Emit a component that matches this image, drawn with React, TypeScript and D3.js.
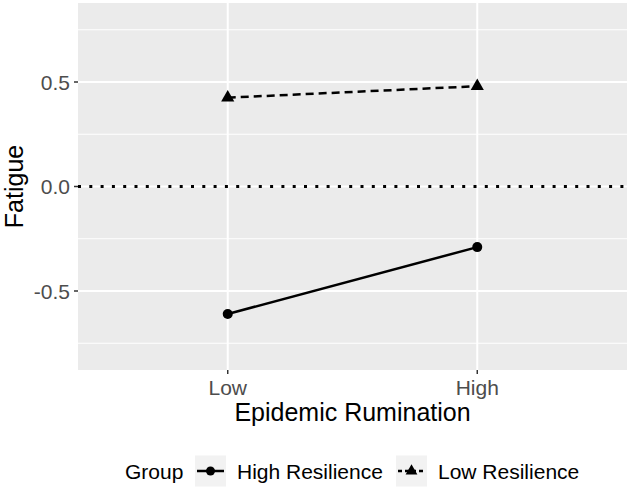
// @ts-nocheck
import React, { useEffect, useRef } from "react";
import * as d3 from "d3";

const levels = ["Low", "High"];
const highResilience = [-0.61, -0.29];
const lowResilience = [0.425, 0.48];
const yTicks = [-0.5, 0.0, 0.5];
const yMinor = [-0.75, -0.25, 0.25, 0.75];

const W = 630;
const H = 490;
const FONT = "'Liberation Sans', Arial, sans-serif";

export default function App() {
  const svgRef = useRef(null);

  useEffect(() => {
    const svg = d3.select(svgRef.current);
    svg.selectAll("*").remove();

    const margin = { top: 3, right: 3, bottom: 120, left: 78 };
    const x0 = margin.left;
    const x1 = W - margin.right;
    const y0 = margin.top;
    const y1 = H - margin.bottom;

    // discrete x with ggplot's 0.6 expansion
    const x = d3.scaleLinear().domain([0.4, 2.6]).range([x0, x1]);
    const xPos = (i) => x(i + 1);
    const y = d3.scaleLinear().domain([-0.878, 0.878]).range([y1, y0]);

    // Panel
    svg.append("rect")
      .attr("x", x0).attr("y", y0)
      .attr("width", x1 - x0).attr("height", y1 - y0)
      .attr("fill", "#EBEBEB");

    svg.selectAll(".minor")
      .data(yMinor)
      .join("line")
      .attr("x1", x0).attr("x2", x1)
      .attr("y1", (d) => y(d)).attr("y2", (d) => y(d))
      .attr("stroke", "#fff").attr("stroke-width", 1);

    svg.selectAll(".major")
      .data(yTicks)
      .join("line")
      .attr("x1", x0).attr("x2", x1)
      .attr("y1", (d) => y(d)).attr("y2", (d) => y(d))
      .attr("stroke", "#fff").attr("stroke-width", 2);

    levels.forEach((l, i) => {
      svg.append("line")
        .attr("x1", xPos(i)).attr("x2", xPos(i))
        .attr("y1", y0).attr("y2", y1)
        .attr("stroke", "#fff").attr("stroke-width", 2);
    });

    // Reference line at 0
    svg.append("line")
      .attr("x1", x0).attr("x2", x1)
      .attr("y1", y(0)).attr("y2", y(0))
      .attr("stroke", "#000").attr("stroke-width", 3)
      .attr("stroke-dasharray", "3 8.3");

    // Series
    const line = d3.line().x((d, i) => xPos(i)).y((d) => y(d));

    svg.append("path")
      .datum(highResilience)
      .attr("d", line)
      .attr("fill", "none").attr("stroke", "#000").attr("stroke-width", 2.5);

    svg.append("path")
      .datum(lowResilience)
      .attr("d", line)
      .attr("fill", "none").attr("stroke", "#000").attr("stroke-width", 2.5)
      .attr("stroke-dasharray", "8 5");

    svg.selectAll(".pt-high")
      .data(highResilience)
      .join("circle")
      .attr("cx", (d, i) => xPos(i)).attr("cy", (d) => y(d))
      .attr("r", 5).attr("fill", "#000");

    const tri = d3.symbol().type(d3.symbolTriangle).size(75);
    svg.selectAll(".pt-low")
      .data(lowResilience)
      .join("path")
      .attr("d", tri)
      .attr("transform", (d, i) => `translate(${xPos(i)},${y(d)})`)
      .attr("fill", "#000");

    // Y axis
    yTicks.forEach((t) => {
      svg.append("line")
        .attr("x1", x0 - 4).attr("x2", x0)
        .attr("y1", y(t)).attr("y2", y(t))
        .attr("stroke", "#333").attr("stroke-width", 1.5);
      svg.append("text")
        .attr("x", x0 - 8).attr("y", y(t))
        .attr("dy", "0.36em")
        .attr("text-anchor", "end")
        .attr("font-family", FONT).attr("font-size", 21)
        .attr("fill", "#4D4D4D")
        .text(t.toFixed(1));
    });

    // X axis
    levels.forEach((l, i) => {
      svg.append("line")
        .attr("x1", xPos(i)).attr("x2", xPos(i))
        .attr("y1", y1).attr("y2", y1 + 4)
        .attr("stroke", "#333").attr("stroke-width", 1.5);
      svg.append("text")
        .attr("x", xPos(i)).attr("y", y1 + 25)
        .attr("text-anchor", "middle")
        .attr("font-family", FONT).attr("font-size", 21)
        .attr("fill", "#4D4D4D")
        .text(l);
    });

    // Axis titles
    svg.append("text")
      .attr("x", (x0 + x1) / 2).attr("y", y1 + 51)
      .attr("text-anchor", "middle")
      .attr("font-family", FONT).attr("font-size", 25)
      .attr("fill", "#000")
      .text("Epidemic Rumination");

    svg.append("text")
      .attr("transform", `translate(23,${(y0 + y1) / 2}) rotate(-90)`)
      .attr("text-anchor", "middle")
      .attr("font-family", FONT).attr("font-size", 25)
      .attr("fill", "#000")
      .text("Fatigue");

    // Legend
    const ly = 471;
    svg.append("text")
      .attr("x", 125).attr("y", ly).attr("dy", "0.36em")
      .attr("font-family", FONT).attr("font-size", 21)
      .text("Group");

    const keys = [
      { x: 195, label: "High Resilience", dash: null, shape: "circle" },
      { x: 396, label: "Low Resilience", dash: "4 3", shape: "tri" },
    ];
    keys.forEach((k) => {
      svg.append("rect")
        .attr("x", k.x).attr("y", ly - 15.5)
        .attr("width", 31).attr("height", 31)
        .attr("fill", "#F2F2F2");
      svg.append("line")
        .attr("x1", k.x + 2).attr("x2", k.x + 29)
        .attr("y1", ly).attr("y2", ly)
        .attr("stroke", "#000").attr("stroke-width", 2.5)
        .attr("stroke-dasharray", k.dash);
      if (k.shape === "circle") {
        svg.append("circle")
          .attr("cx", k.x + 15.5).attr("cy", ly).attr("r", 4.5).attr("fill", "#000");
      } else {
        svg.append("path")
          .attr("d", d3.symbol().type(d3.symbolTriangle).size(60))
          .attr("transform", `translate(${k.x + 15.5},${ly})`)
          .attr("fill", "#000");
      }
      svg.append("text")
        .attr("x", k.x + 42).attr("y", ly).attr("dy", "0.36em")
        .attr("font-family", FONT).attr("font-size", 21)
        .text(k.label);
    });
  }, []);

  return (
    <div style={{ position: "absolute", left: 0, top: 0 }}>
      <svg
        ref={svgRef}
        width={W}
        height={H}
        style={{ display: "block", background: "#fff" }}
      ></svg>
    </div>
  );
}
